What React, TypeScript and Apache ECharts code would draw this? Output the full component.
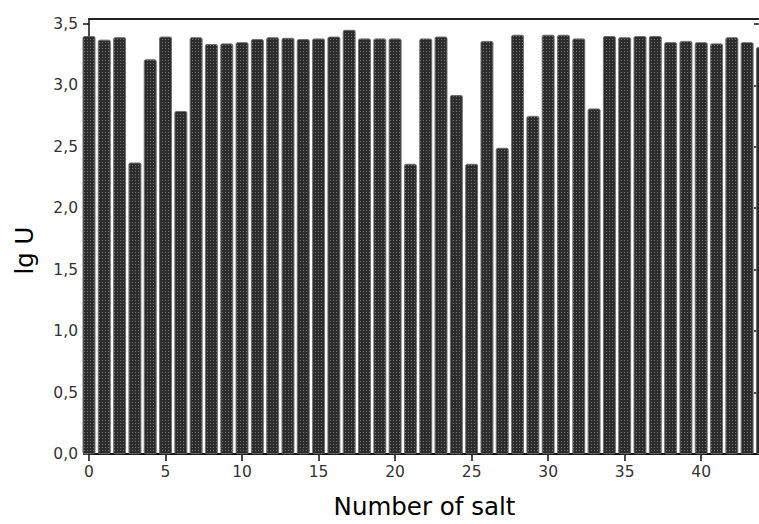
import React, { useEffect, useRef } from "react";
import * as echarts from "echarts";

const saltNumbers: number[] = [
  0, 1, 2, 3, 4, 5, 6, 7, 8, 9, 10, 11, 12, 13, 14, 15, 16, 17, 18, 19, 20, 21,
  22, 23, 24, 25, 26, 27, 28, 29, 30, 31, 32, 33, 34, 35, 36, 37, 38, 39, 40, 41,
  42, 43, 44,
];
const lgU: number[] = [
  3.4, 3.37, 3.39, 2.37, 3.21, 3.395, 2.79, 3.39, 3.335, 3.34, 3.35, 3.375,
  3.39, 3.385, 3.375, 3.38, 3.395, 3.45, 3.38, 3.38, 3.38, 2.36, 3.38, 3.395,
  2.92, 2.36, 3.36, 2.49, 3.41, 2.75, 3.41, 3.41, 3.38, 2.81, 3.4, 3.39, 3.4,
  3.4, 3.35, 3.36, 3.35, 3.34, 3.39, 3.35, 3.31,
];
const yTicks: number[] = [0, 0.5, 1.0, 1.5, 2.0, 2.5, 3.0, 3.5];
const xTicks: number[] = [0, 5, 10, 15, 20, 25, 30, 35, 40];

const FONT = "DejaVu Sans";

export default function App() {
  const ref = useRef<HTMLDivElement>(null);
  useEffect(() => {
    if (!ref.current) return;
    const chart = echarts.init(ref.current, null, { renderer: "svg" });
    const fmtY = (v: number) => v.toFixed(1).replace(".", ",");
    chart.setOption({
      animation: false,
      backgroundColor: "#ffffff",
      grid: { left: 89, right: 2, top: 19, bottom: 67, containLabel: false },
      xAxis: [
        {
          type: "value",
          min: 0,
          max: 43.84,
          name: "Number of salt",
          nameLocation: "middle",
          nameGap: 40,
          nameTextStyle: { fontFamily: FONT, fontSize: 24.5, color: "#000" },
          axisLine: { onZero: false, lineStyle: { color: "#111", width: 2 } },
          axisTick: {
            customValues: xTicks,
            length: 7,
            lineStyle: { color: "#111", width: 1.5 },
          },
          axisLabel: {
            customValues: xTicks,
            margin: 10,
            fontFamily: FONT,
            fontSize: 15.5,
            color: "#333",
          },
          splitLine: { show: false },
        },
        {
          type: "value",
          position: "top",
          min: 0,
          max: 43.84,
          axisLine: {
            show: true,
            onZero: false,
            lineStyle: { color: "#222", width: 2 },
          },
          axisTick: { show: false },
          axisLabel: { show: false },
          splitLine: { show: false },
        },
      ],
      yAxis: [
        {
          type: "value",
          min: 0,
          max: 3.54,
          name: "lg U",
          nameLocation: "middle",
          nameGap: 52,
          nameTextStyle: {
            fontFamily: FONT,
            fontSize: 24.5,
            color: "#000",
            padding: [0, 28, 0, 0],
          },
          axisLine: {
            show: true,
            onZero: false,
            lineStyle: { color: "#111", width: 1.5 },
          },
          axisTick: {
            show: true,
            customValues: yTicks,
            length: 6,
            lineStyle: { color: "#111", width: 1.5 },
          },
          axisLabel: {
            customValues: yTicks,
            margin: 11,
            fontFamily: FONT,
            fontSize: 15.5,
            color: "#333",
            formatter: fmtY,
          },
          splitLine: { show: false },
        },
        {
          type: "value",
          position: "right",
          min: 0,
          max: 3.54,
          axisLine: {
            show: true,
            onZero: false,
            lineStyle: { color: "#111", width: 1.5 },
          },
          axisTick: {
            show: true,
            inside: true,
            customValues: yTicks,
            length: 6,
            lineStyle: { color: "#111", width: 1.5 },
          },
          axisLabel: { show: false },
          splitLine: { show: false },
        },
      ],
      series: [
        {
          type: "bar",
          xAxisIndex: 0,
          yAxisIndex: 0,
          barWidth: 12.5,
          clip: false,
          data: saltNumbers.map((n, i) => [n, lgU[i]]),
          itemStyle: {
            color: "#2c2c2c",
            borderColor: "#6a6a6a",
            borderWidth: 0.6,
            borderRadius: 1.5,
            decal: {
              symbol: "rect",
              symbolSize: 1,
              color: "rgba(140,140,140,0.75)",
              dashArrayX: [1, 2],
              dashArrayY: [1, 2],
              rotation: 0,
            },
          },
        },
      ],
    });
    return () => chart.dispose();
  }, []);
  return (
    <div
      ref={ref}
      style={{ position: "fixed", left: 0, top: 0, width: 762, height: 524 }}
    />
  );
}
